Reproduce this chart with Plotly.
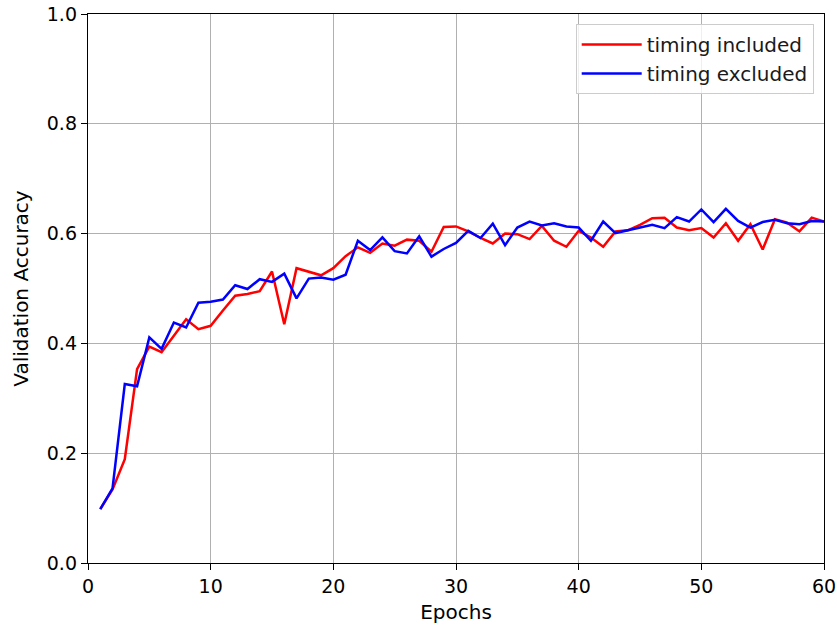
import plotly.graph_objects as go

epochs = list(range(1, 61))

timing_included = [
    0.098, 0.134, 0.189, 0.353, 0.394, 0.384, 0.414, 0.444, 0.426, 0.432,
    0.460, 0.487, 0.490, 0.495, 0.531, 0.435, 0.537, 0.531, 0.524, 0.537,
    0.559, 0.575, 0.565, 0.582, 0.578, 0.589, 0.587, 0.567, 0.612, 0.613,
    0.604, 0.592, 0.582, 0.600, 0.599, 0.590, 0.614, 0.587, 0.576, 0.605,
    0.593, 0.576, 0.604, 0.606, 0.616, 0.628, 0.629, 0.611, 0.606, 0.610,
    0.593, 0.619, 0.587, 0.617, 0.571, 0.626, 0.620, 0.604, 0.629, 0.622,
]

timing_excluded = [
    0.098, 0.136, 0.326, 0.322, 0.411, 0.390, 0.438, 0.429, 0.474, 0.476,
    0.480, 0.506, 0.499, 0.517, 0.512, 0.527, 0.482, 0.518, 0.520, 0.516,
    0.525, 0.587, 0.570, 0.593, 0.568, 0.564, 0.595, 0.558, 0.572, 0.583,
    0.605, 0.592, 0.618, 0.579, 0.611, 0.622, 0.615, 0.619, 0.613, 0.611,
    0.587, 0.622, 0.601, 0.606, 0.612, 0.616, 0.610, 0.630, 0.622, 0.644,
    0.621, 0.645, 0.623, 0.611, 0.621, 0.625, 0.619, 0.617, 0.623, 0.622,
]

x_ticks = [0, 10, 20, 30, 40, 50, 60]
y_ticks = [0.0, 0.2, 0.4, 0.6, 0.8, 1.0]

FONT = "DejaVu Sans"
FS = 19
TITLE_FS = 20

fig = go.Figure()
fig.add_trace(go.Scatter(
    x=epochs, y=timing_included, mode="lines", name="timing included",
    line=dict(color="#ff0000", width=2.5),
))
fig.add_trace(go.Scatter(
    x=epochs, y=timing_excluded, mode="lines", name="timing excluded",
    line=dict(color="#0000ff", width=2.5),
))

axis_common = dict(
    showline=True, linecolor="black", linewidth=1.4, mirror=True,
    ticks="outside", ticklen=6, tickwidth=1.4, tickcolor="black",
    showgrid=True, gridcolor="#b0b0b0", gridwidth=1.4,
    zeroline=False, automargin=False,
    tickfont=dict(family=FONT, size=FS, color="black"),
)

fig.update_xaxes(
    range=[0, 60], tickvals=x_ticks, ticktext=[str(v) for v in x_ticks],
    title=dict(text="Epochs", font=dict(family=FONT, size=TITLE_FS, color="black"), standoff=8),
    **axis_common,
)
fig.update_yaxes(
    range=[0, 1], tickvals=y_ticks, ticktext=[f"{v:.1f}" for v in y_ticks],
    title=dict(text="Validation Accuracy", font=dict(family=FONT, size=TITLE_FS, color="black"), standoff=12),
    **axis_common,
)

fig.update_layout(
    width=837, height=625,
    margin=dict(l=88, r=13, t=14, b=62),
    plot_bgcolor="white", paper_bgcolor="white",
    font=dict(family=FONT, size=FS, color="black"),
    legend=dict(
        x=0.986, y=0.982, xanchor="right", yanchor="top",
        bgcolor="rgba(255,255,255,0.8)", bordercolor="#cccccc", borderwidth=1,
        font=dict(family=FONT, size=TITLE_FS, color="#1a1a1a"),
        itemwidth=60, tracegroupgap=0,
    ),
)

fig.write_html("out.html")
